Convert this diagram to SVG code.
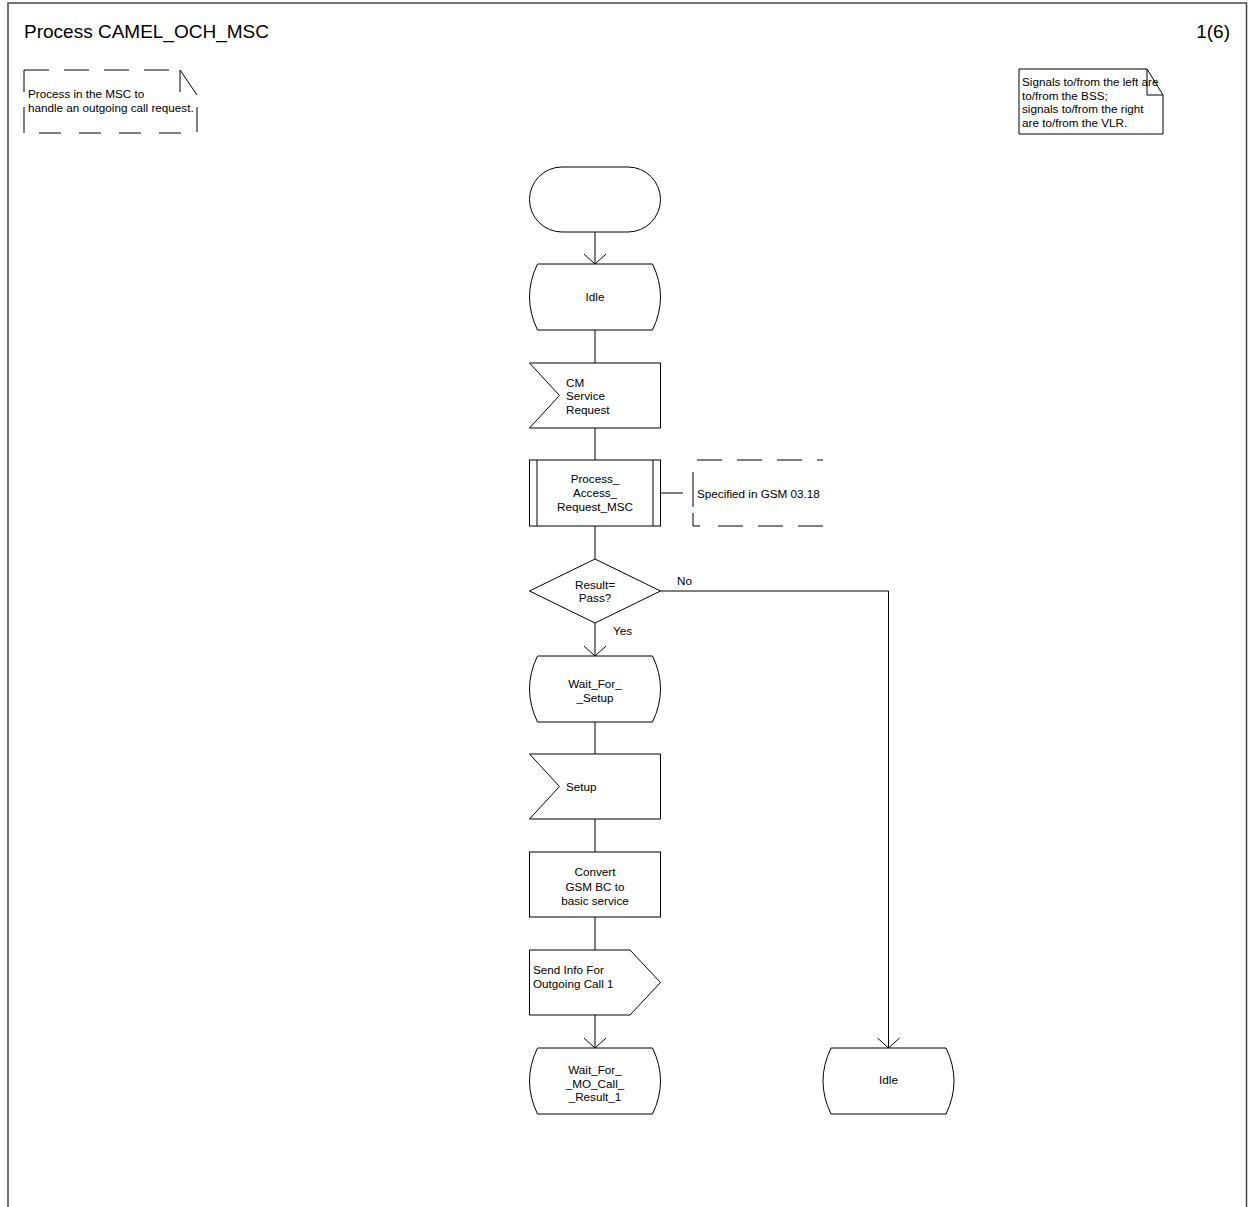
<svg xmlns="http://www.w3.org/2000/svg" width="1249" height="1207" viewBox="0 0 1249 1207">
<style>
  .s{fill:#fff;stroke:#000;stroke-width:1}
  .ln{fill:none;stroke:#000;stroke-width:1}
  .t{font-family:"Liberation Sans",Arial,sans-serif;font-size:11.7px;fill:#000}
  .c{text-anchor:middle}
  .h{font-family:"Liberation Sans",Arial,sans-serif;font-size:19px;fill:#000}
</style>
<defs>
  <path id="state" d="M8,0 H123 Q139,33 123,66 H8 Q-8,33 8,0 Z"/>
  <marker id="arr" markerUnits="userSpaceOnUse" markerWidth="24" markerHeight="24" refX="0" refY="0" orient="auto" overflow="visible">
    <path d="M-10,-11 L0,0 L-10,11" fill="none" stroke="#000" stroke-width="1"/>
  </marker>
</defs>
<rect width="1249" height="1207" fill="#fff"/>
<path d="M8,1207 V3 H1246.5 V1207" fill="none" stroke="#444" stroke-width="1.5"/>
<text class="h" x="24" y="38">Process CAMEL_OCH_MSC</text>
<text class="h" x="1230" y="38" text-anchor="end">1(6)</text>

<g id="comment-process">
  <line class="ln" x1="24" y1="70" x2="180" y2="70" stroke-dasharray="25,15"/>
  <path class="ln" d="M24,92 V70 M24,107 V133 M180,92 V70 L197,95 M197,107 V132"/>
  <line class="ln" x1="39" y1="133" x2="183" y2="133" stroke-dasharray="22,18"/>
  <text class="t" x="28" y="98">Process in the MSC to</text>
  <text class="t" x="28" y="112">handle an outgoing call request.</text>
</g>

<g id="note-signals">
  <path class="s" d="M1019,69 H1147 L1163,95 V134 H1019 Z"/>
  <path class="ln" d="M1147,69 V95 H1163"/>
  <text class="t" x="1022" y="86">Signals to/from the left are</text>
  <text class="t" x="1022" y="100">to/from the BSS;</text>
  <text class="t" x="1022" y="113">signals to/from the right</text>
  <text class="t" x="1022" y="127">are to/from the VLR.</text>
</g>

<g id="connectors">
  <line class="ln" x1="595" y1="232" x2="595" y2="264" marker-end="url(#arr)"/>
  <line class="ln" x1="595" y1="330" x2="595" y2="363"/>
  <line class="ln" x1="595" y1="428" x2="595" y2="460"/>
  <line class="ln" x1="595" y1="526" x2="595" y2="559"/>
  <line class="ln" x1="595" y1="623" x2="595" y2="656" marker-end="url(#arr)"/>
  <line class="ln" x1="595" y1="722" x2="595" y2="754"/>
  <line class="ln" x1="595" y1="819" x2="595" y2="852"/>
  <line class="ln" x1="595" y1="917" x2="595" y2="950"/>
  <line class="ln" x1="595" y1="1015" x2="595" y2="1048" marker-end="url(#arr)"/>
  <path class="ln" d="M660.5,591 H888.5 V1048" marker-end="url(#arr)"/>
  <line class="ln" x1="660.5" y1="493" x2="683" y2="493"/>
  <text class="t" x="677" y="585">No</text>
  <text class="t" x="613" y="635">Yes</text>
</g>

<g id="start">
  <rect class="s" x="529.5" y="167" width="131" height="65" rx="32.5" ry="32.5"/>
</g>

<g id="idle-1">
  <use href="#state" class="s" x="529.5" y="264"/>
  <text class="t c" x="595" y="301">Idle</text>
</g>

<g id="cm-service-request">
  <path class="s" d="M529.5,363 H660.5 V428 H529.5 L559.5,395.5 Z"/>
  <text class="t" x="566" y="386.5">CM</text>
  <text class="t" x="566" y="400">Service</text>
  <text class="t" x="566" y="413.5">Request</text>
</g>

<g id="process-access-request">
  <rect class="s" x="529.5" y="460" width="131" height="66"/>
  <path class="ln" d="M537,460 V526 M653,460 V526"/>
  <text class="t c" x="595" y="482.5">Process_</text>
  <text class="t c" x="595" y="497">Access_</text>
  <text class="t c" x="595" y="511">Request_MSC</text>
</g>

<g id="comment-specified">
  <line class="ln" x1="697" y1="460" x2="823" y2="460" stroke-dasharray="25,15"/>
  <path class="ln" d="M693,472 V507 M693,513 V526 H700"/>
  <line class="ln" x1="718" y1="526" x2="823" y2="526" stroke-dasharray="25,15"/>
  <text class="t" x="697" y="497.5">Specified in GSM 03.18</text>
</g>

<g id="decision-result">
  <path class="s" d="M529.5,591 L595,559 L660.5,591 L595,623 Z"/>
  <text class="t c" x="595" y="588.5">Result=</text>
  <text class="t c" x="595" y="602">Pass?</text>
</g>

<g id="wait-for-setup">
  <use href="#state" class="s" x="529.5" y="656"/>
  <text class="t c" x="595" y="687.5">Wait_For_</text>
  <text class="t c" x="595" y="701.5">_Setup</text>
</g>

<g id="setup">
  <path class="s" d="M529.5,754 H660.5 V819 H529.5 L559.5,786.5 Z"/>
  <text class="t" x="566" y="791">Setup</text>
</g>

<g id="convert">
  <rect class="s" x="529.5" y="852" width="131" height="65"/>
  <text class="t c" x="595" y="876">Convert</text>
  <text class="t c" x="595" y="890.5">GSM BC to</text>
  <text class="t c" x="595" y="905">basic service</text>
</g>

<g id="send-info">
  <path class="s" d="M529.5,950 H630 L660.5,982.5 L630,1015 H529.5 Z"/>
  <text class="t" x="533" y="974">Send Info For</text>
  <text class="t" x="533" y="988">Outgoing Call 1</text>
</g>

<g id="wait-for-mo-call-result">
  <use href="#state" class="s" x="529.5" y="1048"/>
  <text class="t c" x="595" y="1074">Wait_For_</text>
  <text class="t c" x="595" y="1087.5">_MO_Call_</text>
  <text class="t c" x="595" y="1101">_Result_1</text>
</g>

<g id="idle-2">
  <use href="#state" class="s" x="823" y="1048"/>
  <text class="t c" x="888.5" y="1084">Idle</text>
</g>
</svg>
